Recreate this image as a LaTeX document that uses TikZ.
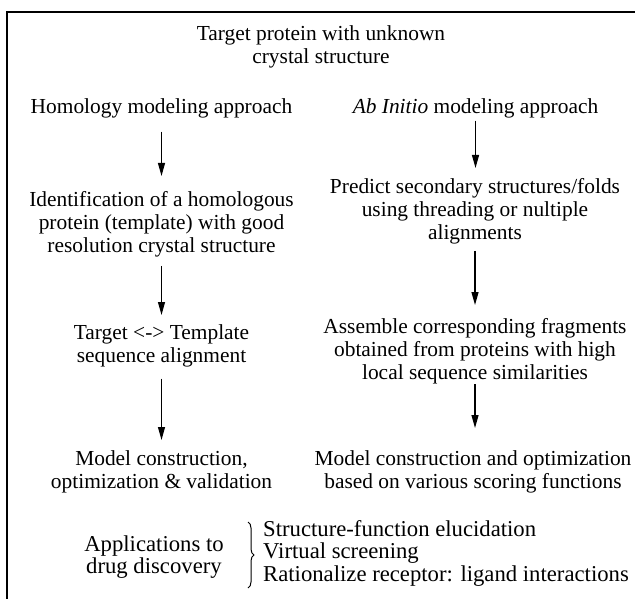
\documentclass[tikz,border=0pt]{standalone}
\usepackage{fontspec}
\setmainfont{Liberation Serif}
\usetikzlibrary{arrows.meta,decorations.pathreplacing}
\begin{document}
\begin{tikzpicture}[x=1pt,y=-1pt,
  txt/.style={inner sep=0pt, anchor=north, align=center, font=\fontsize{21.4}{22.8}\selectfont},
  big/.style={font=\fontsize{22.7}{22.3}\selectfont},
  arr/.style={line width=1.2pt, -{Triangle[length=13pt,width=7pt]}},
  frame/.style={line width=1.5pt}]
\useasboundingbox (0,0) rectangle (635,599);
\clip (0,0) rectangle (635,599);
\draw[frame] (7,640) -- (7,12) -- (680,12);
\node[txt] (title) at (321,25.4) {Target protein with unknown\\crystal structure};
\node[txt] (hom) at (161.5,98.4) {Homology modeling approach};
\node[txt] (abi) at (475.5,98.4) {\textit{Ab Initio} modeling approach};
\node[txt] (ident) at (161.5,191.4) {Identification of a homologous\\protein (template) with good\\resolution crystal structure};
\node[txt] (pred) at (475,178.4) {Predict secondary structures/folds\\using threading or nultiple\\alignments};
\node[txt] (tt) at (161.5,324.4) {Target <-> Template\\sequence alignment};
\node[txt] (asm) at (475,318.4) {Assemble corresponding fragments\\obtained from proteins with high\\local sequence similarities};
\node[txt] (modl) at (161.5,450.4) {Model construction,\\optimization \& validation};
\node[txt] (modr) at (473,450.4) {Model construction and optimization\\based on various scoring functions};
\node[txt, big] (app) at (154,535.5) {Applications to\\drug discovery};
\node[txt, big, anchor=north west, align=left] (list) at (263,520.5) {Structure-function elucidation\\Virtual screening\\Rationalize receptor: ligand interactions};
\draw[arr, shorten <=13.4pt, shorten >=15.4pt] (hom.south) -- (hom.south |- ident.north);
\draw[arr, shorten <=8.8pt, shorten >=9.4pt] (ident.south) -- (ident.south |- tt.north);
\draw[arr, shorten <=11.6pt, shorten >=10.4pt] (tt.south) -- (tt.south |- modl.north);
\draw[arr, shorten <=2.4pt, shorten >=10.4pt] (abi.south) -- (abi.south |- pred.north);
\draw[arr, shorten <=6.8pt, shorten >=13.4pt] (pred.south) -- (pred.south |- asm.north);
\draw[arr, shorten <=0pt, shorten >=22.4pt] (asm.south) -- (asm.south |- modr.north);
\coordinate (bt) at (248,522);
\coordinate (bb) at (248,588);
\draw[line width=1pt, decorate, decoration={brace, amplitude=6pt}] (bt) -- (bb);
\end{tikzpicture}
\end{document}
